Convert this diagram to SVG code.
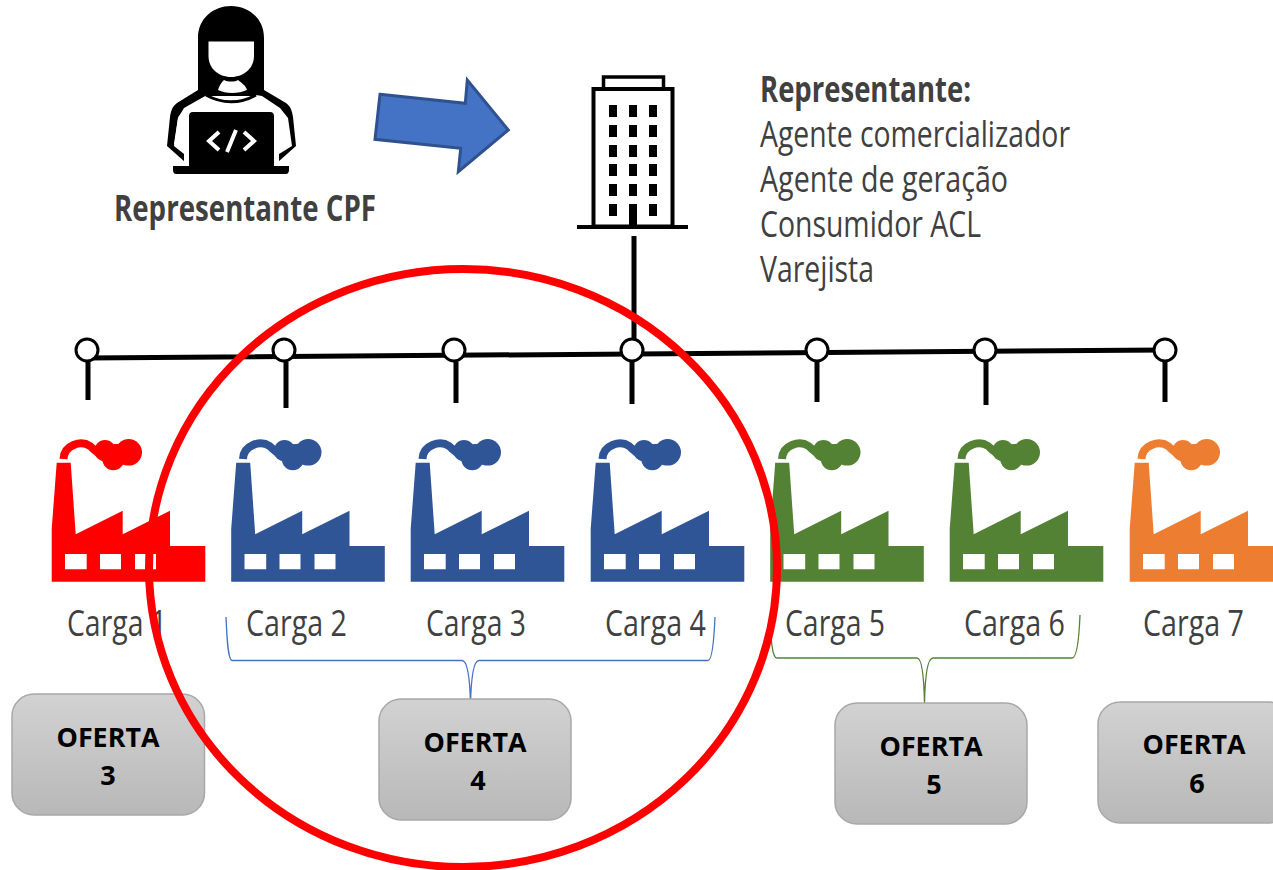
<svg xmlns="http://www.w3.org/2000/svg" width="1273" height="870" viewBox="0 0 1273 870">
<style>
text{font-family:"Open Sans","Noto Sans","Liberation Sans",sans-serif}
.h{font-size:36px;fill:#404040}
.hb{font-size:36px;fill:#404040;font-weight:700}
.o{font-size:27px;fill:#000;font-weight:700;text-anchor:middle}
.box{fill:url(#g);stroke:#a8a8a8;stroke-width:1.5}
.bar{stroke:#000;stroke-width:5;fill:none}
.dot{fill:#fff;stroke:#000;stroke-width:3}
.win{fill:#000}
.red{color:#f00}.blue{color:#2f5597}.green{color:#548235}.orange{color:#ed7d31}
</style>
<defs>
<linearGradient id="g" x1="0" y1="0" x2="0" y2="1"><stop offset="0" stop-color="#d2d2d2"/><stop offset="1" stop-color="#b8b8b8"/></linearGradient>
<symbol id="factory" overflow="visible" viewBox="0 0 160 150" width="160" height="150">
<path fill="currentColor" fill-rule="evenodd" d="M0.700 144.700V92L5.700 25.700H19.700L24.700 97.300 71.700 73.700V97.300L119 73.700V109H154.300V144.700ZM14 117V132.300H35.700V117ZM49 117V132.300H70V117ZM84 117V132.300H105V117Z"/>
<path fill="none" stroke="currentColor" stroke-width="8" d="M12.500 22C13 8 30 3 39 9 45 14 50 20 60 19"/>
<path fill="currentColor" d="M50 8L80 6V26L58 30Z"/>
<circle cx="54" cy="13.700" r="10.700" fill="currentColor"/>
<circle cx="62.300" cy="22.300" r="11" fill="currentColor"/>
<circle cx="77.700" cy="15.300" r="13.300" fill="currentColor"/>
</symbol>
</defs>
<rect width="1273" height="870" fill="#fff"/>
<g id="person">
<path d="M198 90V38C198 18 214 6 231 6 248 6 264 18 264 38V90L286 103C291 107 292 111 293 117L296 146 278 162V150L288 144 284 118C282 112 256 96 256 96H206C206 96 180 112 178 118L174 144 185 150V162L167 146 170 117C171 111 172 107 177 103Z" fill="#000"/>
<path d="M208.500 41.500H254V56C254 68 244 77 231 77 218 77 208.500 68 208.500 56Z" fill="#fff"/>
<path d="M218 90C220 84 222 82 224 80 228 82 235 82 238 80 242 83 246 86 247 90 238 94 226 94 218 90Z" fill="#fff"/>
<path d="M207 95C222 104 240 104 256 95L262 96 280 108 288 118 292 146 279 154V165H184V154L174 146 178 118 184 108Z" fill="#fff"/>
<path d="M206 95C222 104 240 104 256 95" fill="none" stroke="#000" stroke-width="3"/>
<path d="M193 112H270C273 112 274 114 274 116V166H289V170C289 172 288 174 286 174H176C174 174 173 172 173 170V166H189V116C189 114 190 112 193 112Z" fill="#000"/>
<path d="M219 132L209 141 219 150M244 132L254 141 244 150M236 130L227 152" fill="none" stroke="#fff" stroke-width="4"/>
<text class="hb" x="114" y="221" textLength="262" lengthAdjust="spacingAndGlyphs">Representante CPF</text>
</g>
<g id="connectors">
<polygon id="arrow" points="380,94.300 465.300,103.300 467.300,80 508.300,130 458.300,171.700 460.700,148.300 375,139.300" fill="#4472c4" stroke="#2f528f" stroke-width="3"/>
<path class="bar" d="M87 358L1165 350M634 236V340M88 362V400M286 362V408M456 362V403M632 362V404M817 362V402M986 362V405M1165 362V402"/>
<path d="M226 617C227 640 228 660 232 660.500H462C468 660.500 470 680 470.500 705 471 680 473 660.500 479 660.500H708C712 660.500 714 640 715 617" fill="none" stroke="#4472c4" stroke-width="1.300"/>
<path d="M770 615C771 640 772 658 777 658H917C922 658 924 680 924.500 703 925 680 927 658 933 658H1072C1077 658 1079 640 1080 615" fill="none" stroke="#548235" stroke-width="1.300"/>
</g>
<g id="bus-nodes">
<circle class="dot" cx="87" cy="350" r="11"/>
<circle class="dot" cx="284" cy="350" r="11"/>
<circle class="dot" cx="454" cy="350" r="11"/>
<circle class="dot" cx="632" cy="350" r="11"/>
<circle class="dot" cx="817" cy="350" r="11"/>
<circle class="dot" cx="985" cy="350" r="11"/>
<circle class="dot" cx="1165" cy="350" r="11"/>
</g>
<g id="building">
<rect x="603.500" y="77" width="60" height="12" fill="#fff" stroke="#000" stroke-width="3.500"/>
<rect x="593.500" y="89" width="79" height="137.500" fill="#fff" stroke="#000" stroke-width="4"/>
<path d="M577 227H688" stroke="#000" stroke-width="4"/>
<g class="win">
<rect x="609" y="105" width="8" height="12"/><rect x="629" y="105" width="8" height="12"/><rect x="649" y="105" width="8" height="12"/>
<rect x="609" y="125" width="8" height="12"/><rect x="629" y="125" width="8" height="12"/><rect x="649" y="125" width="8" height="12"/>
<rect x="609" y="145" width="8" height="12"/><rect x="629" y="145" width="8" height="12"/><rect x="649" y="145" width="8" height="12"/>
<rect x="609" y="164" width="8" height="12"/><rect x="629" y="164" width="8" height="12"/><rect x="649" y="164" width="8" height="12"/>
<rect x="609" y="184" width="8" height="12"/><rect x="629" y="184" width="8" height="12"/><rect x="649" y="184" width="8" height="12"/>
<rect x="609" y="204" width="8" height="12"/><rect x="629" y="204" width="8" height="24"/><rect x="649" y="204" width="8" height="12"/>
</g>
</g>
<g id="representante-text">
<text class="hb" x="760" y="102" textLength="211" lengthAdjust="spacingAndGlyphs">Representante:</text>
<text class="h" x="760" y="147" textLength="310" lengthAdjust="spacingAndGlyphs">Agente comercializador</text>
<text class="h" x="760" y="192" textLength="248" lengthAdjust="spacingAndGlyphs">Agente de geração</text>
<text class="h" x="760" y="237" textLength="221" lengthAdjust="spacingAndGlyphs">Consumidor ACL</text>
<text class="h" x="760" y="282" textLength="114" lengthAdjust="spacingAndGlyphs">Varejista</text>
</g>
<g id="carga-1" class="red"><use href="#factory" x="51" y="437"/><text class="h" x="67" y="636" textLength="100" lengthAdjust="spacingAndGlyphs">Carga 1</text></g>
<g id="carga-2" class="blue"><use href="#factory" x="230.500" y="437"/><text class="h" x="246" y="636" textLength="101" lengthAdjust="spacingAndGlyphs">Carga 2</text></g>
<g id="carga-3" class="blue"><use href="#factory" x="410" y="437"/><text class="h" x="426" y="636" textLength="100" lengthAdjust="spacingAndGlyphs">Carga 3</text></g>
<g id="carga-4" class="blue"><use href="#factory" x="590" y="437"/><text class="h" x="605" y="636" textLength="101" lengthAdjust="spacingAndGlyphs">Carga 4</text></g>
<g id="carga-5" class="green"><use href="#factory" x="769.500" y="437"/><text class="h" x="785" y="636" textLength="100" lengthAdjust="spacingAndGlyphs">Carga 5</text></g>
<g id="carga-6" class="green"><use href="#factory" x="949" y="437"/><text class="h" x="964" y="636" textLength="101" lengthAdjust="spacingAndGlyphs">Carga 6</text></g>
<g id="carga-7" class="orange"><use href="#factory" x="1129" y="437"/><text class="h" x="1143" y="636" textLength="101" lengthAdjust="spacingAndGlyphs">Carga 7</text></g>
<g id="oferta-3"><rect class="box" x="12" y="694" width="192.500" height="121" rx="22"/><text class="o" x="108" y="747" textLength="103" lengthAdjust="spacingAndGlyphs">OFERTA</text><text class="o" x="108" y="785">3</text></g>
<g id="oferta-4"><rect class="box" x="379" y="699" width="192" height="121" rx="22"/><text class="o" x="475" y="752" textLength="103" lengthAdjust="spacingAndGlyphs">OFERTA</text><text class="o" x="478" y="790">4</text></g>
<g id="oferta-5"><rect class="box" x="835" y="703" width="192" height="121" rx="22"/><text class="o" x="931" y="756" textLength="103" lengthAdjust="spacingAndGlyphs">OFERTA</text><text class="o" x="934" y="794">5</text></g>
<g id="oferta-6"><rect class="box" x="1098" y="702" width="192" height="121" rx="22"/><text class="o" x="1194" y="754" textLength="103" lengthAdjust="spacingAndGlyphs">OFERTA</text><text class="o" x="1197" y="793">6</text></g>
<ellipse id="highlight" cx="463" cy="568" rx="314" ry="299" fill="none" stroke="#f00" stroke-width="8"/>
</svg>
